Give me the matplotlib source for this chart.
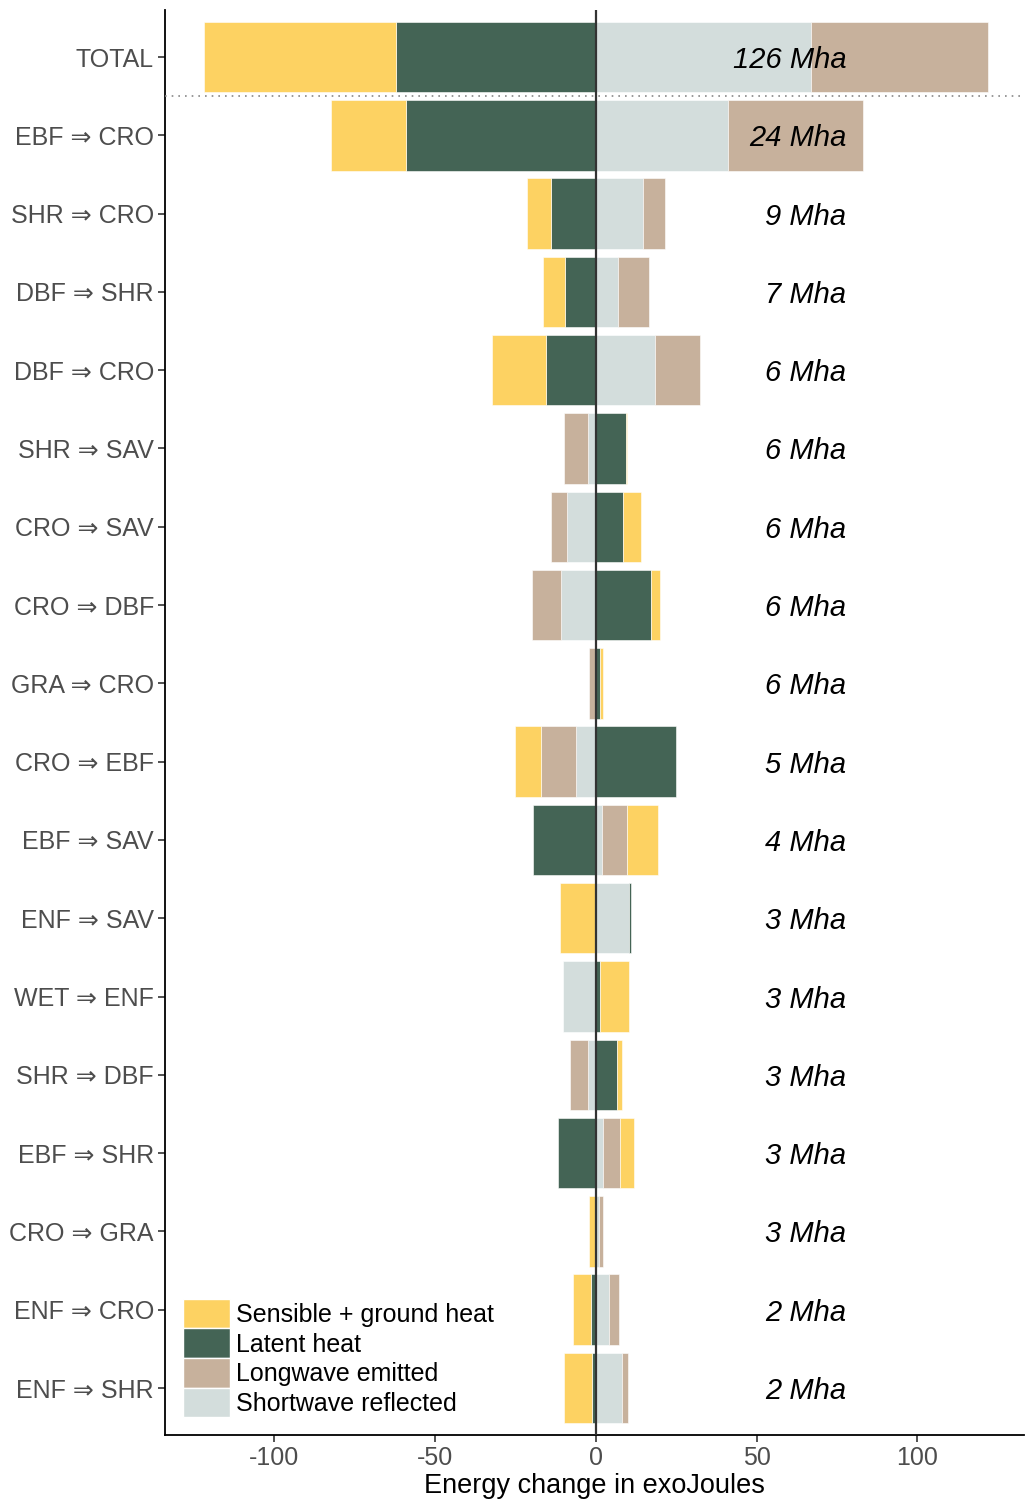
import matplotlib
matplotlib.use("Agg")
import matplotlib.pyplot as plt
import numpy as np
from matplotlib.patches import Patch

plt.rcParams['font.family'] = ['Liberation Sans', 'DejaVu Sans']

# rows top to bottom
transitions = ["TOTAL", "EBF ⇒ CRO", "SHR ⇒ CRO", "DBF ⇒ SHR", "DBF ⇒ CRO", "SHR ⇒ SAV",
               "CRO ⇒ SAV", "CRO ⇒ DBF", "GRA ⇒ CRO", "CRO ⇒ EBF", "EBF ⇒ SAV", "ENF ⇒ SAV",
               "WET ⇒ ENF", "SHR ⇒ DBF", "EBF ⇒ SHR", "CRO ⇒ GRA", "ENF ⇒ CRO", "ENF ⇒ SHR"]
areas = ["126 Mha", "24 Mha", "9 Mha", "7 Mha", "6 Mha", "6 Mha", "6 Mha", "6 Mha", "6 Mha",
         "5 Mha", "4 Mha", "3 Mha", "3 Mha", "3 Mha", "3 Mha", "3 Mha", "2 Mha", "2 Mha"]

# energy change components (exoJoules)
shortwave = [67, 41, 14.6, 6.8, 18.3, -2.5, -8.9, -10.9, -0.1, -6.1, 1.8, 10.4, -10.1, -2.5, 2.3, 0.9, 4.0, 8.1]
longwave = [55, 42, 6.9, 9.6, 14.2, -7.3, -5.0, -9.0, -2.1, -11.0, 7.8, 0.0, 0.0, -5.5, 5.2, 1.4, 3.2, 1.9]
latent = [-62, -59, -13.8, -9.5, -15.6, 9.3, 8.5, 17.2, 1.2, 25.0, -19.4, 0.7, 1.4, 6.6, -11.8, -0.2, -1.6, -1.1]
sensible = [-60, -23.5, -7.7, -6.8, -16.8, 0.5, 5.5, 2.8, 1.0, -7.9, 9.9, -11.1, 9.0, 1.4, 4.4, -2.0, -5.5, -8.7]

components = [("Shortwave reflected", shortwave, "#D3DDDC"),
              ("Longwave emitted", longwave, "#C7B19C"),
              ("Latent heat", latent, "#446455"),
              ("Sensible + ground heat", sensible, "#FDD262")]

fig = plt.figure(figsize=(10.25, 14.99), dpi=100)
ax = fig.add_axes([0.161, 0.0427, 0.838, 0.9506])

y = np.arange(len(transitions))
pos = np.zeros(len(y))
neg = np.zeros(len(y))
for name, vals, col in components:
    v = np.array(vals, dtype=float)
    left = np.where(v >= 0, pos, neg)
    ax.barh(y, v, left=left, height=0.9, color=col, edgecolor="white", linewidth=0.4, zorder=2)
    pos += np.where(v >= 0, v, 0)
    neg += np.where(v < 0, v, 0)

for i, lab in enumerate(areas):
    ax.text(78, i, lab, ha="right", va="center_baseline", fontsize=21, style="italic", zorder=4)

ax.axvline(0, color="#333333", lw=1.6, zorder=3)
ax.axhline(0.5, color="#888888", lw=1.2, ls=(0, (1, 3)), zorder=3)

ax.set_xlim(-134, 133.2)
ax.set_ylim(len(y) - 0.4, -0.6)
ax.set_yticks(y)
ax.set_yticklabels(transitions)
ax.set_xticks([-100, -50, 0, 50, 100])
ax.set_xticklabels(["-100", "-50", "0", "50", "100"])
ax.tick_params(labelsize=18, colors="#4d4d4d", length=5, width=1.2, pad=3)
ax.tick_params(axis="both", color="#333333")
ax.set_xlabel("Energy change in exoJoules", fontsize=19.5, labelpad=2)
for s in ["top", "right"]:
    ax.spines[s].set_visible(False)
for s in ["left", "bottom"]:
    ax.spines[s].set_linewidth(1.3)

handles = [Patch(facecolor=c, edgecolor="white", label=n) for n, _, c in reversed(components)]
ax.legend(handles=handles, loc="lower left", bbox_to_anchor=(0.0, 0.0), frameon=False,
          fontsize=18, handlelength=1.9, handleheight=1.45, handletextpad=0.25,
          labelspacing=0.0, borderpad=0.35, borderaxespad=0.35)

fig.savefig("out.png", dpi=100)
